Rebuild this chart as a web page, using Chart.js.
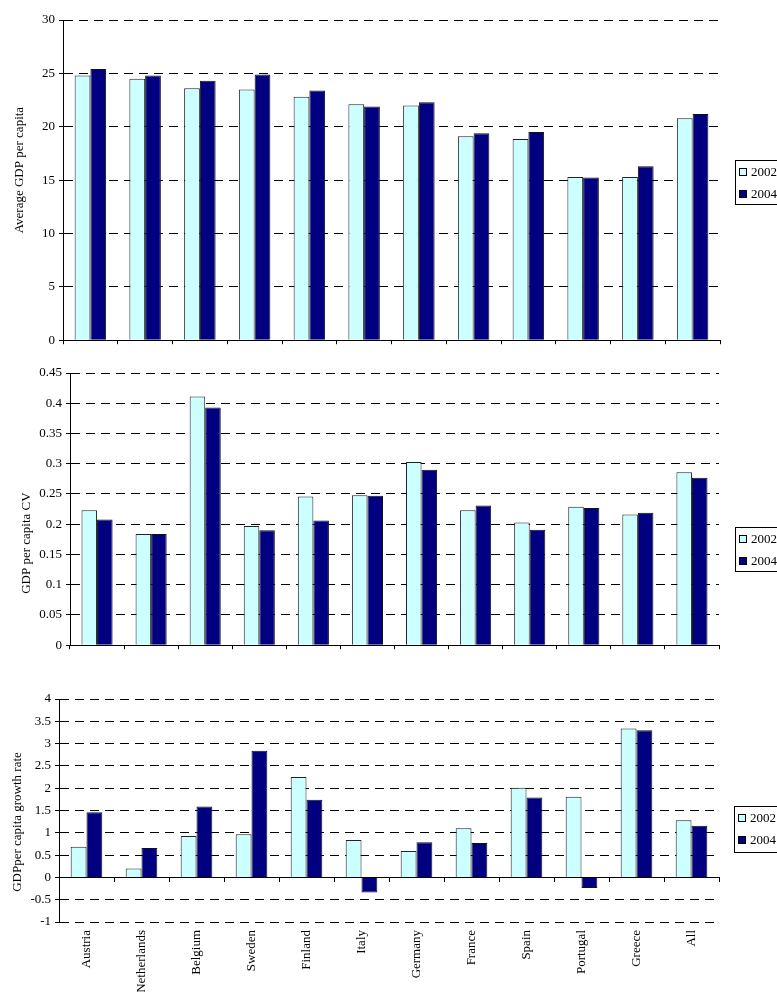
<!DOCTYPE html>
<html><head><meta charset="utf-8">
<script src="https://cdn.jsdelivr.net/npm/chart.js@4.4.1/dist/chart.umd.min.js"></script>
<style>
html,body{margin:0;padding:0;background:#fff;width:777px;height:992px;overflow:hidden;position:relative}
canvas{position:absolute;left:0}
</style></head><body>
<canvas id="c1" width="777" height="352" style="top:0px"></canvas>
<canvas id="c2" width="777" height="305" style="top:352px"></canvas>
<canvas id="c3" width="777" height="335" style="top:657px"></canvas>
<script>
const countries = ['Austria','Netherlands','Belgium','Sweden','Finland','Italy','Germany','France','Spain','Portugal','Greece','All'];
const seriesNames = ['2002','2004'];
const gdp2002 = [24.8,24.5,23.6,23.5,22.8,22.1,22.0,19.1,18.85,15.3,15.3,20.8];
const gdp2004 = [25.4,24.8,24.3,24.9,23.4,21.9,22.3,19.4,19.5,15.25,16.3,21.2];
const cv2002 = [0.223,0.184,0.411,0.197,0.246,0.248,0.303,0.223,0.203,0.229,0.216,0.286];
const cv2004 = [0.208,0.184,0.393,0.190,0.206,0.247,0.290,0.231,0.191,0.227,0.219,0.277];
const growth2002 = [0.69,0.20,0.93,0.97,2.25,0.84,0.59,1.10,2.01,1.81,3.34,1.28];
const growth2004 = [1.46,0.66,1.59,2.84,1.74,-0.34,0.79,0.77,1.79,-0.24,3.30,1.16];
const gdpTicks = [0, 30, 5];
const cvTicks = [0, 0.45, 0.05];
const growthTicks = [-1, 4, 0.5];
const axisTitles = ['Average GDP per capita', 'GDP per capita CV', 'GDPper capita growth rate'];

const FONT = "'Liberation Serif','Times New Roman',serif";
Chart.defaults.font.family = FONT;
Chart.defaults.font.size = 13;
Chart.defaults.color = '#000';

const fmt = v => String(Number(Number(v).toFixed(2)));
const dashFn = c => (c.tick && Math.abs(c.tick.value) < 1e-9) ? [] : [9, 6];

const boxLegend = {
  id: 'boxLegend',
  afterDraw(chart, args, o) {
    const ctx = chart.ctx;
    const x = Math.round(chart.chartArea.right + o.dx) + 0.5;
    const top = Math.round(o.top) + 0.5;
    ctx.save();
    ctx.strokeStyle = '#000';
    ctx.lineWidth = 1;
    ctx.strokeRect(x, top, 80, o.h);
    ctx.font = "13px " + FONT;
    ctx.textBaseline = 'middle';
    ctx.textAlign = 'left';
    chart.data.datasets.forEach((ds, i) => {
      const cy = Math.round(top + o.first + i * o.gap);
      ctx.fillStyle = ds.backgroundColor;
      ctx.fillRect(x + 4, cy - 3.5, 7, 7);
      ctx.strokeStyle = '#000';
      ctx.strokeRect(x + 4, cy - 3.5, 7, 7);
      ctx.fillStyle = '#000';
      ctx.fillText(ds.label, x + 15.5, cy + 0.5);
    });
    ctx.restore();
  }
};

const sideTitle = {
  id: 'sideTitle',
  afterDraw(chart, args, o) {
    const ca = chart.chartArea;
    const ctx = chart.ctx;
    ctx.save();
    ctx.translate(o.x, (ca.top + ca.bottom) / 2 + o.dy);
    ctx.rotate(-Math.PI / 2);
    ctx.font = '13px ' + FONT;
    ctx.textAlign = 'center';
    ctx.textBaseline = 'middle';
    ctx.fillStyle = '#000';
    ctx.fillText(o.text, 0, 0);
    ctx.restore();
  }
};

function datasets(a, b) {
  return [
    {label: seriesNames[0], data: a, backgroundColor: '#CCFFFF', borderColor: '#222', borderWidth: 1, xAxisID: 'x', categoryPercentage: 0.575, barPercentage: 1.0},
    {label: seriesNames[1], data: b, backgroundColor: '#000080', borderColor: '#111', borderWidth: 1, xAxisID: 'x', categoryPercentage: 0.575, barPercentage: 1.0}
  ];
}

function yScale(range, width) {
  return {
    min: range[0], max: range[1],
    ticks: {stepSize: range[2], padding: 4, color: '#000', font: {size: 13}, callback: fmt},
    grid: {color: '#000', lineWidth: 1, tickLength: 4, drawTicks: true},
    border: {display: true, color: '#000', width: 1, dash: dashFn},
    afterFit(s) { s.width = width; }
  };
}

function baseOptions(pad, legend, title) {
  return {
    responsive: false, animation: false, devicePixelRatio: 1,
    layout: {padding: pad},
    plugins: {legend: {display: false}, tooltip: {enabled: false}, boxLegend: legend, sideTitle: title},
  };
}

// Chart 1
const o1 = baseOptions({top: 20, right: 57, left: 0, bottom: 0}, {dx: 15, top: 160, h: 44, first: 11, gap: 22}, {text: axisTitles[0], x: 20, dy: -10});
o1.scales = {
  x: {type: 'category', offset: true, grid: {offset: true, drawOnChartArea: false, drawTicks: true, tickLength: 4, color: '#000'}, ticks: {display: false}, border: {display: true, color: '#000'}, afterFit(s) { s.height = 9; }},
  y: yScale(gdpTicks, 63)
};
new Chart(document.getElementById('c1'), {type: 'bar', data: {labels: countries, datasets: datasets(gdp2002, gdp2004)}, options: o1, plugins: [boxLegend, sideTitle]});

// Chart 2
const o2 = baseOptions({top: 21, right: 58, left: 0, bottom: 0}, {dx: 16, top: 527 - 352, h: 44, first: 11, gap: 22}, {text: axisTitles[1], x: 27, dy: 34});
o2.scales = {
  x: {type: 'category', offset: true, grid: {offset: true, drawOnChartArea: false, drawTicks: true, tickLength: 4, color: '#000'}, ticks: {display: false}, border: {display: true, color: '#000'}, afterFit(s) { s.height = 8; }},
  y: yScale(cvTicks, 70)
};
new Chart(document.getElementById('c2'), {type: 'bar', data: {labels: countries, datasets: datasets(cv2002, cv2004)}, options: o2, plugins: [boxLegend, sideTitle]});

// Chart 3
const o3 = baseOptions({top: 42, right: 58, left: 0, bottom: 0}, {dx: 15, top: 806 - 657, h: 46, first: 11, gap: 22}, {text: axisTitles[2], x: 18, dy: 11.5});
o3.scales = {
  x: {axis: 'x', type: 'category', position: {y: 0}, offset: true, grid: {offset: true, drawOnChartArea: false, drawTicks: true, tickLength: 4, color: '#000'}, ticks: {display: false}, border: {display: true, color: '#000'}},
  x2: {axis: 'x', type: 'category', position: 'bottom', offset: true, grid: {display: false, drawTicks: false}, border: {display: false}, ticks: {maxRotation: 90, minRotation: 90, autoSkip: false, padding: 8, color: '#000', font: {size: 13}}, afterFit(s) { s.height = 70; }},
  y: yScale(growthTicks, 59)
};
new Chart(document.getElementById('c3'), {type: 'bar', data: {labels: countries, datasets: datasets(growth2002, growth2004)}, options: o3, plugins: [boxLegend, sideTitle]});
</script>
</body></html>
